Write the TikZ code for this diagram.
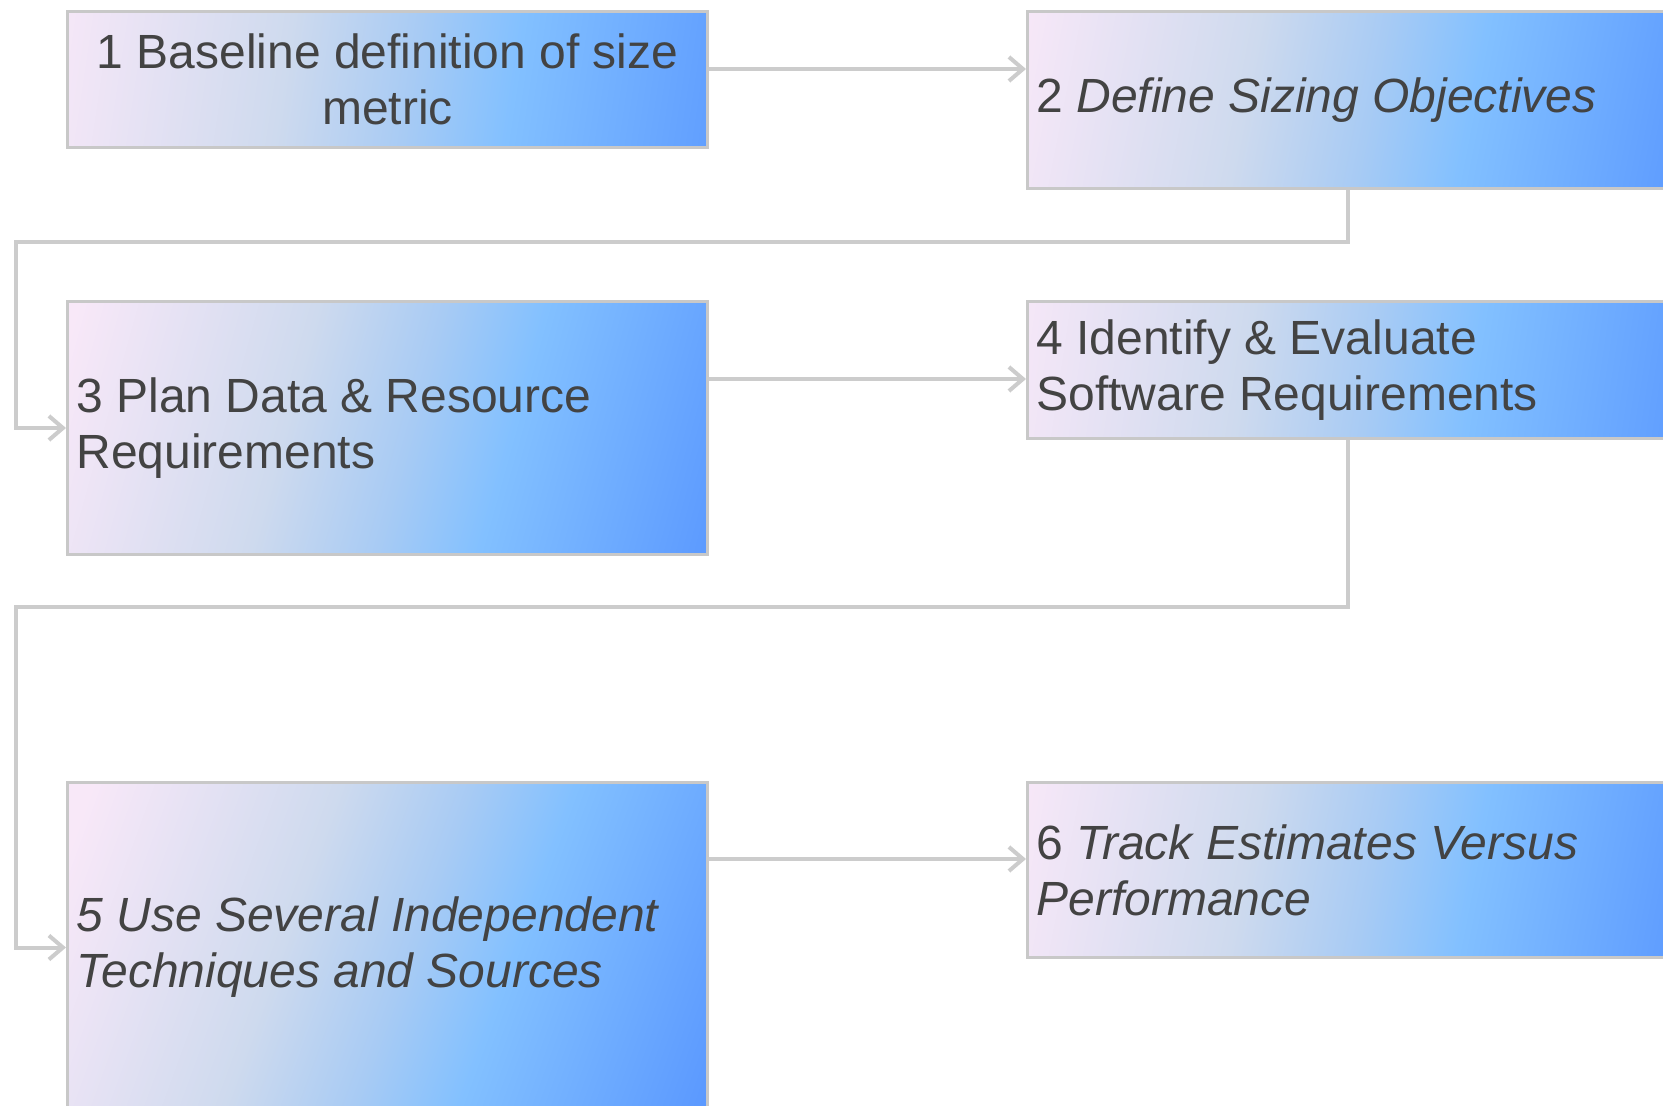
\documentclass[tikz,border=0pt]{standalone}
\usepackage{fontspec}
\setmainfont{Liberation Sans}
\usetikzlibrary{arrows.meta}

\definecolor{gA}{HTML}{F8E8F8}
\definecolor{gB}{HTML}{CEDAEE}
\definecolor{gC}{HTML}{A8CBF4}
\definecolor{gD}{HTML}{82C0FF}
\definecolor{gE}{HTML}{5A98FF}
\definecolor{boxline}{HTML}{C8C8C8}
\definecolor{connline}{HTML}{CCCCCC}
\definecolor{txt}{HTML}{434343}

% pink-to-blue fill used by every step box
\pgfdeclarehorizontalshading{boxgrad}{100bp}{%
  color(0bp)=(gA); color(20bp)=(gA); color(41bp)=(gB);
  color(52bp)=(gC); color(61bp)=(gD); color(82bp)=(gE); color(100bp)=(gE)}

\tikzset{
  stepbox/.style={shade, shading=boxgrad, draw=boxline, line width=1.5pt,
    anchor=north west, inner xsep=4.5pt, inner ysep=0pt,
    minimum width=320pt, text width=311pt, align=left,
    font=\fontsize{24pt}{28pt}\selectfont, text=txt,
    % natural word spaces, no stretching in ragged lines
    execute at begin node={\spaceskip=\fontdimen2\font\relax}},
  conn/.style={draw=connline, line width=2pt,
    -{Straight Barb[length=7pt,width=12pt]}},
}

\begin{document}
\begin{tikzpicture}[x=0.5pt,y=-0.5pt]
\useasboundingbox (0,0) rectangle (1663,1106);
\clip (0,0) rectangle (1663,1106);

% step boxes
\node[stepbox, align=center, minimum height=68pt, shading angle=-8.5]
  (b1) at (66,10) {1 Baseline definition of size\\metric};
\node[stepbox, minimum height=88.5pt, shading angle=-11]
  (b2) at (1026,10) {2 \textit{Define Sizing Objectives}};
\node[stepbox, minimum height=126.5pt, shading angle=-15.5]
  (b3) at (66,300) {3 Plan Data \& Resource\\Requirements};
\node[stepbox, minimum height=68.5pt, shading angle=-8.5]
  (b4) at (1026,300) {4 Identify \& Evaluate\\Software Requirements};
\node[stepbox, minimum height=165pt, shading angle=-20]
  (b5) at (66,781) {\itshape 5 Use Several Independent\\Techniques and Sources};
\node[stepbox, minimum height=87.5pt, shading angle=-11]
  (b6) at (1026,781) {6 \textit{Track Estimates Versus}\\\textit{Performance}};

% routing points for the connectors
\coordinate (y12) at (0,69);
\coordinate (y34) at (0,379);
\coordinate (y56) at (0,859);
\coordinate (r1) at (16,242);
\coordinate (r2) at (16,607);

% connectors
\draw[conn] (b1.east |- y12) -- (b2.west |- y12);
\draw[conn] (b2.south) |- (r1) |- (b3.west);
\draw[conn] (b3.east |- y34) -- (b4.west |- y34);
\draw[conn] (b4.south) |- (r2) |- (b5.west);
\draw[conn] (b5.east |- y56) -- (b6.west |- y56);
\end{tikzpicture}
\end{document}
